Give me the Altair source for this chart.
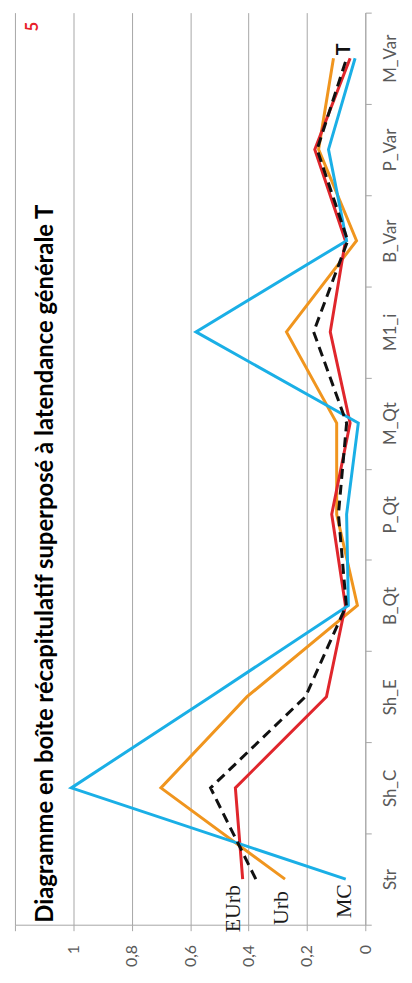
import altair as alt
import pandas as pd

categories = ["Str", "Sh_C", "Sh_E", "B_Qt", "P_Qt", "M_Qt", "M1_i", "B_Var", "P_Var", "M_Var"]
mc = [0.067, 1.007, 0.53, 0.058, 0.064, 0.024, 0.58, 0.064, 0.126, 0.035]
urb = [0.275, 0.70, 0.405, 0.027, 0.098, 0.098, 0.27, 0.03, 0.16, 0.109]
eurb = [0.42, 0.445, 0.133, 0.068, 0.115, 0.052, 0.12, 0.068, 0.173, 0.052]
tend = [0.375, 0.53, 0.205, 0.065, 0.092, 0.064, 0.177, 0.06, 0.165, 0.064]
value_ticks = [0, 0.2, 0.4, 0.6, 0.8, 1, 1.2]
title_text = "Diagramme en boîte récapitulatif superposé à latendance générale T"

series = [
    ("Urb", urb, "#F0951E", None, "Urb", -12, -4),
    ("EUrb", eurb, "#E0262C", None, "EUrb", -6, -10),
    ("MC", mc, "#1AAFE6", None, "MC", -5, -2),
    ("T", tend, "#111111", [10, 6], None, 0, 0),
]

W, H = 353, 919

x_enc = alt.X(
    "value:Q",
    scale=alt.Scale(domain=[0, 1.2], reverse=True, nice=False, zero=True),
    axis=alt.Axis(
        values=value_ticks, grid=True, gridColor="#a6a6a6", gridWidth=1,
        domainColor="#a6a6a6", tickColor="#a6a6a6", tickSize=6,
        labelExpr="datum.value > 1.1 ? '' : replace(format(datum.value, '.1~f'), '.', ',')",
        labelAngle=270, labelAlign="right", labelBaseline="middle", labelPadding=14,
        labelFont="Lato", labelFontSize=16, labelColor="#595959", title=None,
    ),
)
y_enc = alt.Y(
    "cat:N",
    scale=alt.Scale(type="band", domain=list(reversed(categories)), paddingInner=0, paddingOuter=0),
    bandPosition=0.5,
    axis=alt.Axis(
        orient="right", tickBand="extent", grid=False, domainColor="#a6a6a6",
        tickColor="#a6a6a6", tickSize=6, labelAngle=270, labelAlign="center",
        labelBaseline="middle", labelPadding=19, labelFont="Lato", labelFontSize=17,
        labelColor="#595959", title=None,
    ),
)

layers = []
for name, vals, color, dash, label, ldx, ldy in series:
    df = pd.DataFrame({"cat": categories, "value": vals, "idx": list(range(len(categories)))})
    mk = dict(color=color, strokeWidth=3)
    if dash:
        mk["strokeDash"] = dash
    layers.append(
        alt.Chart(df).mark_line(**mk).encode(x=x_enc, y=y_enc, order=alt.Order("idx:Q"))
    )

for name, vals, color, dash, label, ldx, ldy in series:
    if label:
        ldf = pd.DataFrame({"cat": [categories[0]], "value": [vals[0]], "lab": [label]})
        layers.append(
            alt.Chart(ldf).mark_text(
                angle=270, align="right", baseline="middle", dx=ldx, dy=ldy,
                font="Liberation Serif", fontSize=22, color="#1a1a1a",
            ).encode(x=x_enc, y=y_enc, text="lab:N")
        )

tdf = pd.DataFrame({"cat": [categories[-1]], "value": [tend[-1]], "lab": ["T"]})
layers.append(
    alt.Chart(tdf).mark_text(
        angle=270, align="left", baseline="middle", dx=3, dy=-3,
        font="Lato", fontSize=20, fontWeight="bold", color="#111111",
    ).encode(x=x_enc, y=y_enc, text="lab:N")
)

layers.append(
    alt.Chart(pd.DataFrame({"t": [title_text]})).mark_text(
        angle=270, align="left", baseline="alphabetic",
        font="Lato", fontSize=24, fontWeight="bold", color="#000000",
    ).encode(x=alt.value(38), y=alt.value(917), text="t:N")
)
layers.append(
    alt.Chart(pd.DataFrame({"t": ["5"]})).mark_text(
        angle=270, align="center", baseline="middle",
        font="Lato", fontSize=17, fontWeight="bold", color="#E8202A",
    ).encode(x=alt.value(18), y=alt.value(14), text="t:N")
)

chart = alt.layer(*layers).properties(
    width=W, height=H, padding={"left": 6, "top": 0, "right": 5, "bottom": 5}
).configure_view(stroke=None)

chart.save("out.html", embed_options={"renderer": "svg", "actions": False})
